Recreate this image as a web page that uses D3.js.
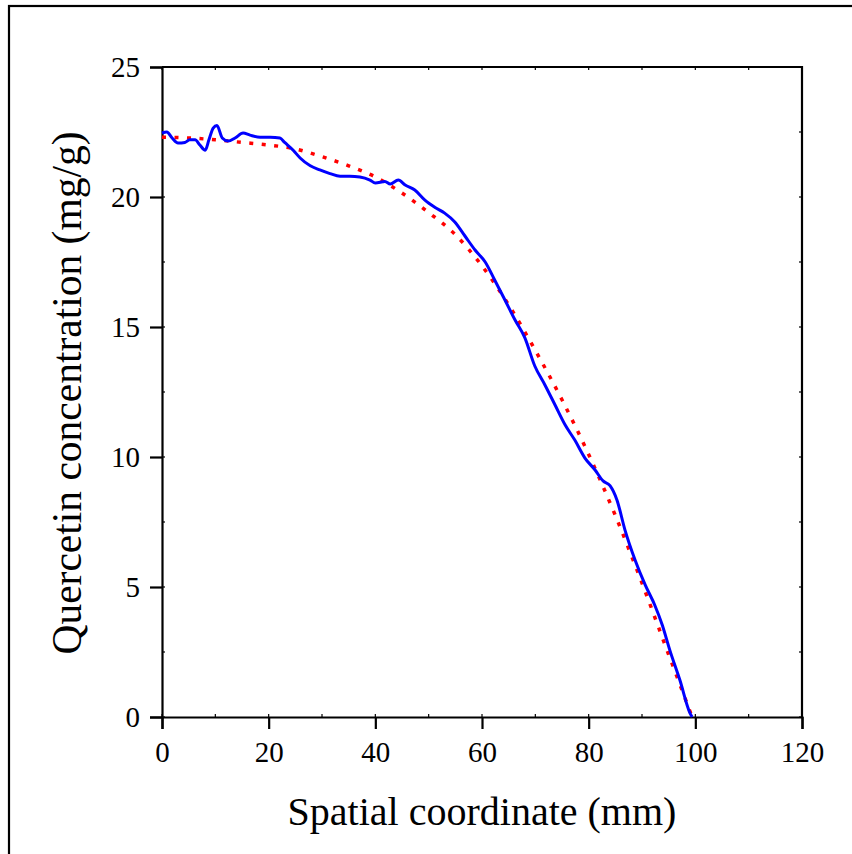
<!DOCTYPE html>
<html>
<head>
<meta charset="utf-8">
<script src="https://cdn.jsdelivr.net/npm/d3@7"></script>
<style>
  html,body{margin:0;padding:0;background:#fff;}
  svg{display:block;font-family:"Liberation Serif","Times New Roman",serif;}
  .tick text{font-size:29px;fill:#000;}
</style>
</head>
<body>
<div id="chart"></div>
<script>
/* Quercetin profile along the column: measured trace (blue) and model fit (red dots). */
var xTicks=[0,20,40,60,80,100,120];
var yTicks=[0,5,10,15,20,25];

var measuredX=[0,0.9,1.9,3.0,4.3,5.2,6.2,7.1,8.1,8.8,9.6,10.3,11.3,12.4,13.7,15.2,16.5,18.4,20.3,22.1,
  23.0,24.6,25.9,27.8,29.6,31.5,33.4,35.2,37.1,39.0,40.0,41.8,42.8,44.3,45.6,47.4,49.3,51.2,53.0,54.9,
  56.8,58.7,60.6,62.4,64.3,66.2,68.0,69.9,71.8,73.7,75.6,77.4,79.3,81.2,82.7,84.0,85.3,86.8,88.7,90.6,
  92.4,93.8,95.2,97.1,99.0,99.4];
var measuredY=[22.46,22.5,22.27,22.08,22.1,22.2,22.2,22.0,21.8,22.2,22.65,22.75,22.27,22.15,22.27,22.46,22.38,22.3,22.3,22.27,
  22.1,21.8,21.5,21.2,21.04,20.9,20.8,20.8,20.77,20.65,20.54,20.6,20.5,20.65,20.46,20.27,19.88,19.6,19.38,19.04,
  18.5,17.96,17.5,16.8,16.04,15.27,14.6,13.5,12.77,12.0,11.23,10.65,9.96,9.5,9.08,8.9,8.35,7.2,6.04,5.08,
  4.3,3.54,2.58,1.42,0.15,0];

var fitX=[0,5,10,15,20,25,30,35,40,45,50,55,60,65,70,75,80,85,90,95,99.4];
var fitY=[22.3,22.27,22.2,22.1,22.0,21.85,21.55,21.2,20.77,20.15,19.4,18.55,17.35,15.85,14.1,12.2,10.1,7.75,5.15,2.4,0];

var W=852,H=854, m={left:162,top:67,right:50,bottom:137};
var width=W-m.left-m.right, height=H-m.top-m.bottom;

var svg=d3.select("#chart").append("svg").attr("width",W).attr("height",H);

// outer frame (runs off the right and bottom of the picture)
svg.append("rect").attr("x",9).attr("y",6).attr("width",900).attr("height",900)
  .attr("fill","none").attr("stroke","#000").attr("stroke-width",2.2);

var g=svg.append("g").attr("transform","translate("+m.left+","+m.top+")");

var x=d3.scaleLinear().domain([0,120]).range([0,width]);
var y=d3.scaleLinear().domain([0,25]).range([height,0]);

// minor ticks, short and inward, on all four sides
var minorX=d3.range(0,121,10), minorY=d3.range(0,25.01,2.5);
var minor=g.append("g").attr("stroke","#000").attr("stroke-width",1.2);
minorX.forEach(function(v){
  minor.append("line").attr("x1",x(v)).attr("x2",x(v)).attr("y1",height).attr("y2",height-3);
  minor.append("line").attr("x1",x(v)).attr("x2",x(v)).attr("y1",0).attr("y2",3);
});
minorY.forEach(function(v){
  minor.append("line").attr("x1",0).attr("x2",3).attr("y1",y(v)).attr("y2",y(v));
  minor.append("line").attr("x1",width).attr("x2",width-3).attr("y1",y(v)).attr("y2",y(v));
});

// top and right border
g.append("path").attr("d","M0,0H"+width+"V"+height).attr("fill","none").attr("stroke","#000").attr("stroke-width",2.2);

var xa=g.append("g").attr("transform","translate(0,"+height+")")
  .call(d3.axisBottom(x).tickValues(xTicks).tickSize(12).tickPadding(12));
var ya=g.append("g")
  .call(d3.axisLeft(y).tickValues(yTicks).tickSize(12).tickPadding(10));
[xa,ya].forEach(function(a){
  a.select(".domain").attr("stroke-width",2.2);
  a.selectAll(".tick line").attr("stroke-width",2.2);
  a.attr("font-family",null).attr("font-size",null);
});

var line=d3.line().curve(d3.curveMonotoneX);

g.append("path").datum(fitX.map(function(v,i){return [x(v),y(fitY[i])];}))
  .attr("d",line).attr("fill","none").attr("stroke","#ff0000")
  .attr("stroke-width",3.5).attr("stroke-dasharray","4,8.5");

g.append("path").datum(measuredX.map(function(v,i){return [x(v),y(measuredY[i])];}))
  .attr("d",line).attr("fill","none").attr("stroke","#0000ff").attr("stroke-width",3);

// axis titles
svg.append("text").attr("x",m.left+width/2).attr("y",825).attr("text-anchor","middle")
  .style("font-size","40px").text("Spatial coordinate (mm)");
svg.append("text").attr("transform","translate(81,"+(m.top+height/2+1)+") rotate(-90)")
  .attr("text-anchor","middle").style("font-size","41.5px").text("Quercetin concentration (mg/g)");
</script>
</body>
</html>
